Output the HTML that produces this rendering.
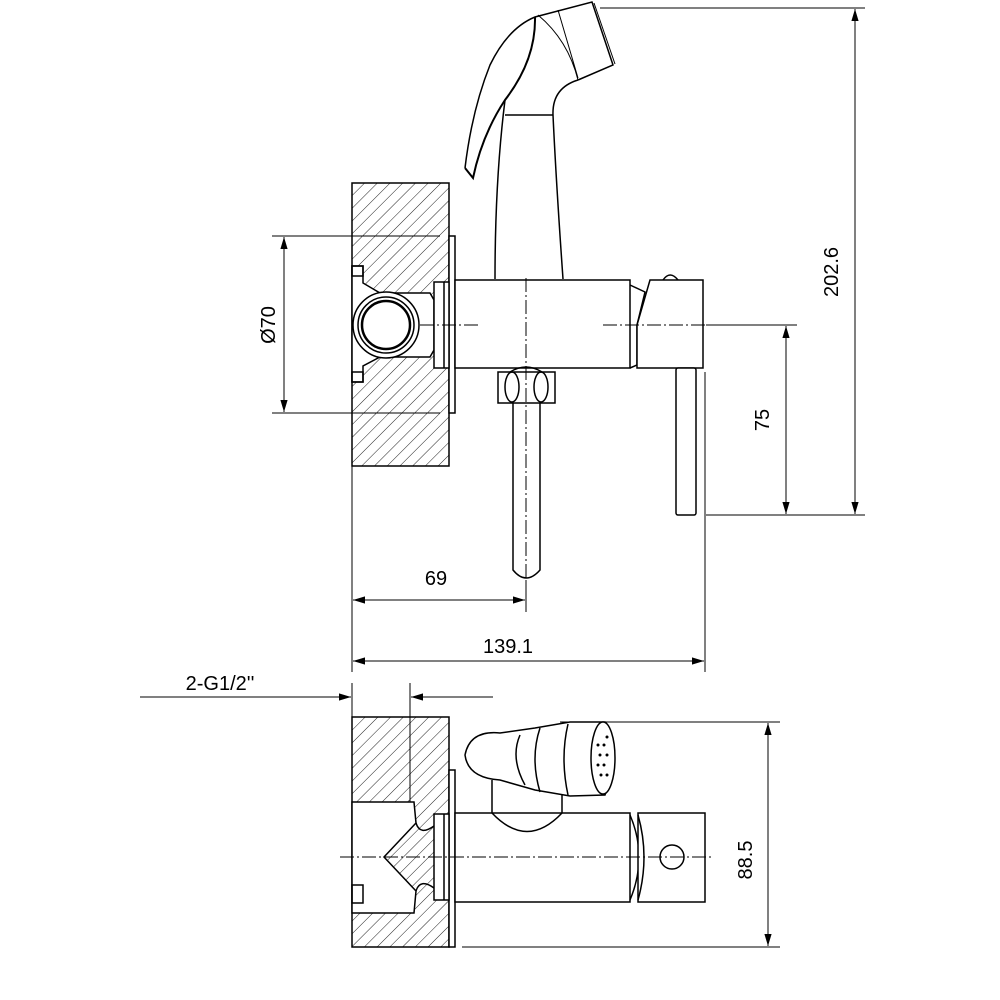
<!DOCTYPE html>
<html><head><meta charset="utf-8"><style>html,body{margin:0;background:#fff}svg{display:block}</style></head>
<body>
<svg width="1000" height="1000" viewBox="0 0 1000 1000" xmlns="http://www.w3.org/2000/svg" font-family="Liberation Sans, sans-serif">
<defs>
<pattern id="h" patternUnits="userSpaceOnUse" width="9" height="9" patternTransform="rotate(45)">
<line x1="0" y1="0" x2="0" y2="9" stroke="#222" stroke-width="1"/>
</pattern>
<marker id="a" viewBox="0 0 10 10" refX="10" refY="5" markerWidth="12" markerHeight="12" orient="auto-start-reverse" markerUnits="userSpaceOnUse"><path d="M0,2 L10,5 L0,8 Z" fill="#000"/></marker>
</defs>
<g fill="none" stroke="#000" stroke-width="1.5">
<!-- TOP VIEW -->
<rect x="352" y="183" width="97" height="283" fill="url(#h)"/>
<path d="M352,266 L363,266 L363,283 L380,293 L430,293 L434,300 L434,350 L430,357 L380,357 L363,366 L363,382 L352,382 Z" fill="#fff"/>
<rect x="352" y="266" width="11" height="10"/><rect x="352" y="372" width="11" height="10"/>
<circle cx="386" cy="325" r="33" fill="#fff"/><circle cx="386" cy="325" r="28"/><circle cx="386" cy="325" r="24" stroke-width="2.5"/>
<rect x="449" y="236" width="6" height="177" fill="#fff"/>
<rect x="434" y="282" width="15" height="86" fill="#fff"/><line x1="444" y1="282" x2="444" y2="368"/>
<rect x="455" y="280" width="175" height="88" fill="#fff"/>
<path d="M630,285 L645,292 L637,325 L637,365 L630,368"/>
<path d="M650,280 L703,280 L703,368 L637,368 L637,325 Z" fill="#fff"/>
<path d="M663,280 Q670,270 678,280"/>
<rect x="676" y="368" width="20" height="147" rx="2" fill="#fff"/>
<path d="M513,403 L513,570 Q526,586 540,570 L540,403" fill="#fff"/>
<rect x="498" y="372" width="57" height="31" fill="#fff"/>
<ellipse cx="512" cy="387" rx="7" ry="15"/><ellipse cx="541" cy="387" rx="7" ry="15"/>
<path d="M510,372 Q526,362 542,372"/>
<!-- hand shower -->
<path d="M495,279 Q495,180 505,100 M563,279 Q556,180 553,115 Q552,88 578,80"/>
<line x1="505" y1="115" x2="553" y2="115"/>
<path d="M465,168 Q472,110 490,65 Q508,28 535,17 L592,2 L613,65 L578,80"/>
<path d="M594,3 L615,64" stroke-width="1"/>
<path d="M535,17 Q536,60 505,100 Q482,135 473,178 L465,168" stroke-width="2"/>
<path d="M538,15 Q568,40 578,80 M558,10 L578,78" stroke-width="1"/>
<!-- dims top -->
<g stroke-width="1">
<line x1="272" y1="236" x2="440" y2="236"/><line x1="272" y1="413" x2="440" y2="413"/>
<line x1="284" y1="237" x2="284" y2="412" marker-start="url(#a)" marker-end="url(#a)"/>
<line x1="706" y1="325" x2="797" y2="325"/><line x1="706" y1="515" x2="865" y2="515"/>
<line x1="786" y1="326" x2="786" y2="514" marker-start="url(#a)" marker-end="url(#a)"/>
<line x1="600" y1="8" x2="865" y2="8"/>
<line x1="855" y1="9" x2="855" y2="514" marker-start="url(#a)" marker-end="url(#a)"/>
<line x1="352" y1="466" x2="352" y2="672"/><line x1="705" y1="372" x2="705" y2="672"/><line x1="526" y1="580" x2="526" y2="612"/>
<line x1="353" y1="600" x2="525" y2="600" marker-start="url(#a)" marker-end="url(#a)"/>
<line x1="353" y1="661" x2="704" y2="661" marker-start="url(#a)" marker-end="url(#a)"/>
<line x1="420" y1="325" x2="478" y2="325" stroke-dasharray="14,3,2,3"/>
<line x1="603" y1="325" x2="720" y2="325" stroke-dasharray="14,3,2,3"/>
<line x1="526" y1="278" x2="526" y2="580" stroke-dasharray="14,3,2,3"/>
</g>
<!-- BOTTOM VIEW -->
<rect x="352" y="717" width="97" height="230" fill="url(#h)"/>
<path d="M352,802 L414,802 L416,823 L384,857 L416,891 L414,913 L352,913 Z" fill="#fff"/>
<path d="M416,823 Q420,836 434,826 M416,891 Q420,878 434,888"/>
<rect x="352" y="885" width="11" height="18"/>
<line x1="410" y1="717" x2="410" y2="802" stroke-width="1"/>
<rect x="449" y="770" width="6" height="177" fill="#fff"/>
<rect x="434" y="814" width="15" height="86" fill="#fff"/><line x1="444" y1="814" x2="444" y2="900"/>
<rect x="455" y="813" width="175" height="89" fill="#fff"/>
<path d="M630,815 Q648,857 630,900"/>
<rect x="638" y="813" width="67" height="89" fill="#fff"/>
<path d="M638,815 Q650,857 638,900"/>
<circle cx="672" cy="857" r="12"/>
<path d="M492,780 L492,813 M562,780 L562,813 M492,813 Q527,850 562,813"/>
<path d="M500,733 Q470,730 465,755 Q468,778 500,780 L535,790 L570,796 L605,795 Q618,760 605,722 L570,722 L535,728 Z" fill="#fff"/>
<ellipse cx="603" cy="758" rx="12" ry="36" fill="#fff"/>
<path d="M568,724 Q560,758 568,795 M540,728 Q530,758 540,792 M520,735 Q510,758 525,785"/>
<g fill="#000" stroke="none"><circle cx="598" cy="745" r="1.5"/><circle cx="604" cy="745" r="1.5"/><circle cx="600" cy="755" r="1.5"/><circle cx="607" cy="755" r="1.5"/><circle cx="598" cy="765" r="1.5"/><circle cx="604" cy="765" r="1.5"/><circle cx="601" cy="775" r="1.5"/><circle cx="607" cy="737" r="1.5"/><circle cx="607" cy="775" r="1.5"/></g>
<g stroke-width="1">
<line x1="560" y1="722" x2="780" y2="722"/><line x1="462" y1="947" x2="780" y2="947"/>
<line x1="768" y1="723" x2="768" y2="946" marker-start="url(#a)" marker-end="url(#a)"/>
<line x1="340" y1="857" x2="712" y2="857" stroke-dasharray="14,3,2,3"/>
<line x1="352" y1="683" x2="352" y2="717"/><line x1="410" y1="683" x2="410" y2="717"/>
<line x1="140" y1="697" x2="351" y2="697" marker-end="url(#a)"/>
<line x1="493" y1="697" x2="411" y2="697" marker-end="url(#a)"/>
</g>
</g>
<g font-size="20" fill="#000">
<text x="220" y="690" text-anchor="middle">2-G1/2''</text>
<text x="436" y="585" text-anchor="middle">69</text>
<text x="508" y="653" text-anchor="middle">139.1</text>
<text transform="translate(275,325) rotate(-90)" text-anchor="middle">Ø70</text>
<text transform="translate(769,420) rotate(-90)" text-anchor="middle">75</text>
<text transform="translate(838,272) rotate(-90)" text-anchor="middle">202.6</text>
<text transform="translate(752,860) rotate(-90)" text-anchor="middle">88.5</text>
</g>
</svg>
</body></html>
